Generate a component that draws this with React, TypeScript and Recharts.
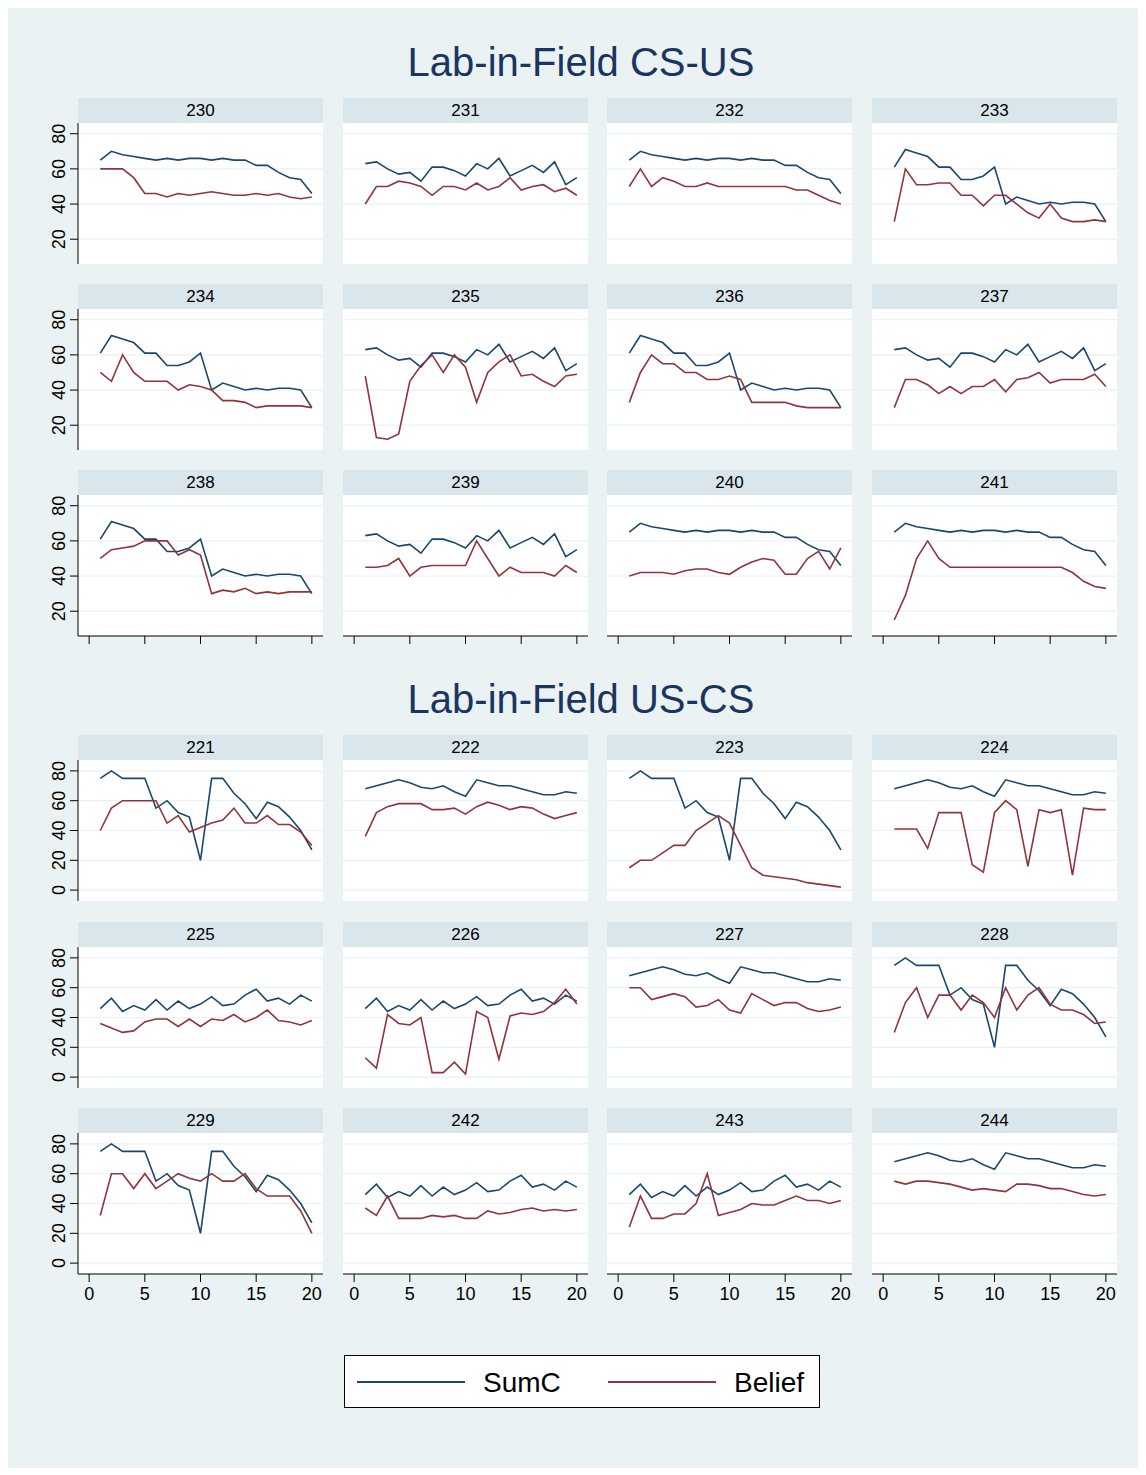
import React from 'react';
import { LineChart, Line, XAxis, YAxis, CartesianGrid } from 'recharts';

// round number on the x axis
const rounds = [1, 2, 3, 4, 5, 6, 7, 8, 9, 10, 11, 12, 13, 14, 15, 16, 17, 18, 19, 20];
const xTicks = [0, 5, 10, 15, 20];
const yTicksTop = [20, 40, 60, 80];
const yTicksBottom = [0, 20, 40, 60, 80];

// SumC series (several sessions share the same contribution path)
const sumcA = [65, 70, 68, 67, 66, 65, 66, 65, 66, 66, 65, 66, 65, 65, 62, 62, 58, 55, 54, 46];
const sumcB = [63, 64, 60, 57, 58, 53, 61, 61, 59, 56, 63, 60, 66, 56, 59, 62, 58, 64, 51, 55];
const sumcC = [61, 71, 69, 67, 61, 61, 54, 54, 56, 61, 40, 44, 42, 40, 41, 40, 41, 41, 40, 30];
const sumcD = [75, 80, 75, 75, 75, 55, 60, 52, 49, 20, 75, 75, 65, 58, 48, 59, 56, 49, 40, 27];
const sumcE = [68, 70, 72, 74, 72, 69, 68, 70, 66, 63, 74, 72, 70, 70, 68, 66, 64, 64, 66, 65];
const sumcF = [46, 53, 44, 48, 45, 52, 45, 51, 46, 49, 54, 48, 49, 55, 59, 51, 53, 49, 55, 51];

// Belief series, one per session
const belief230 = [60, 60, 60, 55, 46, 46, 44, 46, 45, 46, 47, 46, 45, 45, 46, 45, 46, 44, 43, 44];
const belief231 = [40, 50, 50, 53, 52, 50, 45, 50, 50, 48, 52, 48, 50, 55, 48, 50, 51, 47, 49, 45];
const belief232 = [50, 60, 50, 55, 53, 50, 50, 52, 50, 50, 50, 50, 50, 50, 50, 48, 48, 45, 42, 40];
const belief233 = [30, 60, 51, 51, 52, 52, 45, 45, 39, 45, 45, 40, 35, 32, 40, 32, 30, 30, 31, 30];
const belief234 = [50, 45, 60, 50, 45, 45, 45, 40, 43, 42, 40, 34, 34, 33, 30, 31, 31, 31, 31, 30];
const belief235 = [48, 13, 12, 15, 45, 54, 60, 50, 60, 53, 33, 50, 56, 60, 48, 49, 45, 42, 48, 49];
const belief236 = [33, 50, 60, 55, 55, 50, 50, 46, 46, 48, 46, 33, 33, 33, 33, 31, 30, 30, 30, 30];
const belief237 = [30, 46, 46, 43, 38, 42, 38, 42, 42, 46, 39, 46, 47, 50, 44, 46, 46, 46, 49, 42];
const belief238 = [50, 55, 56, 57, 60, 60, 60, 52, 55, 52, 30, 32, 31, 33, 30, 31, 30, 31, 31, 31];
const belief239 = [45, 45, 46, 50, 40, 45, 46, 46, 46, 46, 60, 50, 40, 45, 42, 42, 42, 40, 46, 42];
const belief240 = [40, 42, 42, 42, 41, 43, 44, 44, 42, 41, 45, 48, 50, 49, 41, 41, 50, 54, 44, 56];
const belief241 = [15, 29, 50, 60, 50, 45, 45, 45, 45, 45, 45, 45, 45, 45, 45, 45, 42, 37, 34, 33];

const belief221 = [40, 55, 60, 60, 60, 60, 45, 50, 39, 42, 45, 47, 55, 45, 45, 50, 44, 44, 39, 30];
const belief222 = [36, 52, 56, 58, 58, 58, 54, 54, 55, 51, 56, 59, 57, 54, 56, 55, 51, 48, 50, 52];
const belief223 = [15, 20, 20, 25, 30, 30, 40, 45, 50, 45, 30, 15, 10, 9, 8, 7, 5, 4, 3, 2];
const belief224 = [41, 41, 41, 28, 52, 52, 52, 17, 12, 52, 60, 54, 16, 54, 52, 54, 10, 55, 54, 54];
const belief225 = [36, 33, 30, 31, 37, 39, 39, 34, 39, 34, 39, 38, 42, 37, 40, 45, 38, 37, 35, 38];
const belief226 = [13, 6, 42, 36, 35, 40, 3, 3, 10, 2, 44, 40, 12, 41, 43, 42, 44, 50, 59, 49];
const belief227 = [60, 60, 52, 54, 56, 54, 47, 48, 52, 45, 43, 56, 52, 48, 50, 50, 46, 44, 45, 47];
const belief228 = [30, 50, 60, 40, 55, 55, 45, 55, 50, 40, 60, 45, 55, 60, 49, 45, 45, 42, 36, 37];
const belief229 = [32, 60, 60, 50, 60, 50, 55, 60, 57, 55, 60, 55, 55, 60, 50, 45, 45, 45, 35, 20];
const belief242 = [37, 32, 45, 30, 30, 30, 32, 31, 32, 30, 30, 35, 33, 34, 36, 37, 35, 36, 35, 36];
const belief243 = [24, 45, 30, 30, 33, 33, 40, 60, 32, 34, 36, 40, 39, 39, 42, 45, 42, 42, 40, 42];
const belief244 = [55, 53, 55, 55, 54, 53, 51, 49, 50, 49, 48, 53, 53, 52, 50, 50, 48, 46, 45, 46];

const topPanels = [
  { id: '230', sumc: sumcA, belief: belief230 },
  { id: '231', sumc: sumcB, belief: belief231 },
  { id: '232', sumc: sumcA, belief: belief232 },
  { id: '233', sumc: sumcC, belief: belief233 },
  { id: '234', sumc: sumcC, belief: belief234 },
  { id: '235', sumc: sumcB, belief: belief235 },
  { id: '236', sumc: sumcC, belief: belief236 },
  { id: '237', sumc: sumcB, belief: belief237 },
  { id: '238', sumc: sumcC, belief: belief238 },
  { id: '239', sumc: sumcB, belief: belief239 },
  { id: '240', sumc: sumcA, belief: belief240 },
  { id: '241', sumc: sumcA, belief: belief241 },
];

const bottomPanels = [
  { id: '221', sumc: sumcD, belief: belief221 },
  { id: '222', sumc: sumcE, belief: belief222 },
  { id: '223', sumc: sumcD, belief: belief223 },
  { id: '224', sumc: sumcE, belief: belief224 },
  { id: '225', sumc: sumcF, belief: belief225 },
  { id: '226', sumc: sumcF, belief: belief226 },
  { id: '227', sumc: sumcE, belief: belief227 },
  { id: '228', sumc: sumcD, belief: belief228 },
  { id: '229', sumc: sumcD, belief: belief229 },
  { id: '242', sumc: sumcF, belief: belief242 },
  { id: '243', sumc: sumcF, belief: belief243 },
  { id: '244', sumc: sumcE, belief: belief244 },
];

const FONT = '"Liberation Sans", Arial, Helvetica, sans-serif';
const BG = '#EAF2F3';
const STRIP = '#D9E6EB';
const NAVY = '#1A476F';
const MAROON = '#90353B';

const colLeft = [78, 343, 607, 872];
const PLOT_W = 245;
const PLOT_H = 141;
const STRIP_H = 25;
const Y_AXIS_W = 60;

const RotatedTick = (props: any) => {
  const { x, y, payload } = props;
  return (
    <text
      x={0}
      y={0}
      transform={`translate(${x - 3},${y}) rotate(-90)`}
      textAnchor="middle"
      fontSize={18}
      fontFamily={FONT}
      fill="#000"
    >
      {payload.value}
    </text>
  );
};

type PanelProps = {
  id: string;
  sumc: number[];
  belief: number[];
  col: number;
  top: number;
  showY: boolean;
  showX: boolean;
  xLabels: boolean;
  yDomain: [number, number];
  yTicks: number[];
};

const Panel = ({ id, sumc, belief, col, top, showY, showX, xLabels, yDomain, yTicks }: PanelProps) => {
  const data = rounds.map((r, i) => ({ round: r, sumc: sumc[i], belief: belief[i] }));
  const xH = showX ? (xLabels ? 40 : 12) : 0;
  const yW = showY ? Y_AXIS_W : 0;
  const left = colLeft[col];
  return (
    <>
      <div
        style={{
          position: 'absolute',
          left,
          top: top - STRIP_H,
          width: PLOT_W,
          height: STRIP_H,
          background: STRIP,
          textAlign: 'center',
          lineHeight: `${STRIP_H}px`,
          fontSize: 17,
          fontFamily: FONT,
          color: '#000',
        }}
      >
        {id}
      </div>
      <div style={{ position: 'absolute', left: left - yW, top }}>
        <LineChart
          width={PLOT_W + yW}
          height={PLOT_H + xH}
          data={data}
          margin={{ top: 0, right: 0, bottom: 0, left: 0 }}
        >
          <CartesianGrid vertical={false} fill="#fff" stroke={BG} strokeWidth={1.2} horizontalValues={yTicks} />
          <XAxis
            dataKey="round"
            type="number"
            domain={[-1, 21]}
            ticks={xTicks}
            allowDataOverflow
            hide={!showX}
            height={xH}
            tickSize={8}
            tickMargin={5}
            tickLine={{ stroke: '#000' }}
            axisLine={{ stroke: '#000' }}
            tick={{ fill: '#000', fontSize: 18, fontFamily: FONT }}
            tickFormatter={(v: number) => (xLabels ? String(v) : '')}
            interval={0}
          />
          <YAxis
            type="number"
            domain={yDomain}
            ticks={yTicks}
            allowDataOverflow
            hide={!showY}
            width={yW}
            tickSize={8}
            tickLine={{ stroke: '#000' }}
            axisLine={{ stroke: '#000' }}
            tick={<RotatedTick />}
            interval={0}
          />
          <Line type="linear" dataKey="sumc" stroke={NAVY} strokeWidth={1.6} dot={false} isAnimationActive={false} />
          <Line type="linear" dataKey="belief" stroke={MAROON} strokeWidth={1.6} dot={false} isAnimationActive={false} />
        </LineChart>
      </div>
    </>
  );
};

const Section = ({
  panels,
  rowTops,
  xLabels,
  yDomain,
  yTicks,
}: {
  panels: { id: string; sumc: number[]; belief: number[] }[];
  rowTops: number[];
  xLabels: boolean;
  yDomain: [number, number];
  yTicks: number[];
}) => (
  <>
    {panels.map((p, i) => {
      const row = Math.floor(i / 4);
      const col = i % 4;
      return (
        <Panel
          key={p.id}
          id={p.id}
          sumc={p.sumc}
          belief={p.belief}
          col={col}
          top={rowTops[row]}
          showY={col === 0}
          showX={row === rowTops.length - 1}
          xLabels={xLabels}
          yDomain={yDomain}
          yTicks={yTicks}
        />
      );
    })}
  </>
);

const Title = ({ text, top }: { text: string; top: number }) => (
  <div
    style={{
      position: 'absolute',
      left: 0,
      top,
      width: 1162,
      textAlign: 'center',
      fontSize: 40,
      lineHeight: '40px',
      fontFamily: FONT,
      color: '#1A3560',
    }}
  >
    {text}
  </div>
);

const LegendBox = () => (
  <div
    style={{
      position: 'absolute',
      left: 344,
      top: 1355,
      width: 476,
      height: 53,
      background: '#fff',
      border: '1.5px solid #000',
      boxSizing: 'border-box',
    }}
  >
    <svg width={473} height={50} style={{ display: 'block' }}>
      <line x1={12} x2={120} y1={26} y2={26} stroke={NAVY} strokeWidth={2} />
      <text x={138} y={36} fontSize={28} fontFamily={FONT} fill="#000">
        SumC
      </text>
      <line x1={263} x2={371} y1={26} y2={26} stroke={MAROON} strokeWidth={2} />
      <text x={389} y={36} fontSize={28} fontFamily={FONT} fill="#000">
        Belief
      </text>
    </svg>
  </div>
);

export default function App() {
  return (
    <div style={{ position: 'absolute', left: 0, top: 0, width: 1146, height: 1475, background: '#fff' }}>
      <div style={{ position: 'absolute', left: 8, top: 8, width: 1130, height: 1460, background: BG }} />
      <Title text="Lab-in-Field CS-US" top={42} />
      <Section panels={topPanels} rowTops={[123, 309, 495]} xLabels={false} yDomain={[5.9, 86.1]} yTicks={yTicksTop} />
      <Title text="Lab-in-Field US-CS" top={679} />
      <Section
        panels={bottomPanels}
        rowTops={[760, 947, 1133]}
        xLabels={true}
        yDomain={[-7.3, 87.3]}
        yTicks={yTicksBottom}
      />
      <LegendBox />
    </div>
  );
}
